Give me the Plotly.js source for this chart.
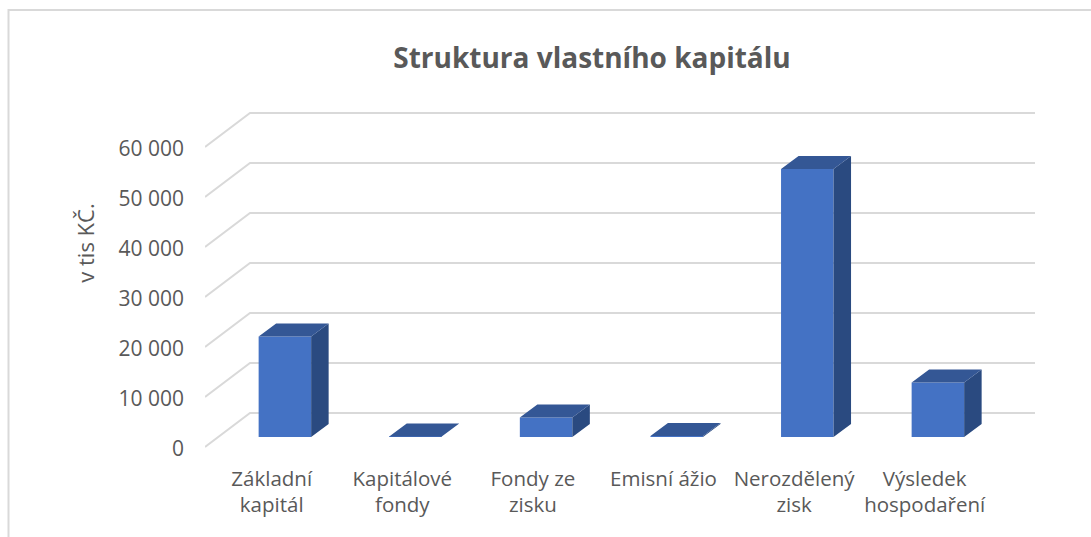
<!DOCTYPE html>
<html><head><meta charset="utf-8">
<script src="https://cdn.plot.ly/plotly-3.0.1.min.js"></script>
<style>html,body{margin:0;padding:0;background:#fff;overflow:hidden}#chart{width:1091px;height:537px}</style>
</head><body><div id="chart"></div>
<script>
const categories = ["Základní<br>kapitál","Kapitálové<br>fondy","Fondy ze<br>zisku","Emisní ážio","Nerozdělený<br>zisk","Výsledek<br>hospodaření"];
const values = [20100, 100, 3900, 200, 53600, 10900];
const yTicks = [0,10000,20000,30000,40000,50000,60000];
const yTickText = ["0","10 000","20 000","30 000","40 000","50 000","60 000"];

// Page geometry (px) and oblique projection of the fake 3D chart
const W=1091,H=537,L=205,R=1040,T=34,B=452;
const firstCat=271.7,catStep=130.6,y0px=437,pxPerUnit=50/10000;
const xRange=[(L-firstCat)/catStep,(R-firstCat)/catStep];
const yRange=[(y0px-B)/pxPerUnit,(y0px-T)/pxPerUnit];
const barOffset=-0.1,barWidth=0.402;
const depthX=17.5/catStep, depthY=13/pxPerUnit;       // bar depth
const wallX=45/catStep, floorDy=-10/pxPerUnit, wallDy=24/pxPerUnit; // side wall
const wallStart=xRange[0], wallEnd=(1035-firstCat)/catStep;

const sideX=[],sideY=[],topX=[],topY=[];
values.forEach((v,i)=>{
  const l=i+barOffset,r=l+barWidth;
  sideX.push(r,r+depthX,r+depthX,r,r,null);
  sideY.push(0,depthY,v+depthY,v,0,null);
  topX.push(l,r,r+depthX,l+depthX,l,null);
  topY.push(v,v,v+depthY,v+depthY,v,null);
});

const gridColor="#D9D9D9",textColor="#595959",font="'Open Sans', sans-serif";
const shapes=yTicks.map(t=>({type:"path",xref:"x2",yref:"y",layer:"below",
  path:`M ${wallStart} ${t+floorDy} L ${wallStart+wallX} ${t+wallDy} L ${wallEnd} ${t+wallDy}`,
  line:{color:gridColor,width:2}}));
const xp=p=>(p-L)/(R-L), yp=p=>(B-p)/(B-T);
shapes.push({type:"path",xref:"paper",yref:"paper",layer:"below",
  path:`M ${xp(8.5)} ${yp(540)} L ${xp(8.5)} ${yp(10)} L ${xp(1095)} ${yp(10)}`,
  line:{color:gridColor,width:2}});

const traces=[
 {type:"bar",x:categories,y:values,offset:barOffset,width:barWidth,marker:{color:"#4472C4",line:{width:0}},xaxis:"x",yaxis:"y",hoverinfo:"x+y",showlegend:false},
 {type:"scatter",mode:"lines",x:sideX,y:sideY,fill:"toself",fillcolor:"#2A4A80",line:{width:0,color:"#2A4A80"},xaxis:"x2",yaxis:"y",hoverinfo:"skip",showlegend:false},
 {type:"scatter",mode:"lines",x:topX,y:topY,fill:"toself",fillcolor:"#345795",line:{width:0,color:"#345795"},xaxis:"x2",yaxis:"y",hoverinfo:"skip",showlegend:false}
];
const layout={
 width:W,height:H,paper_bgcolor:"#fff",plot_bgcolor:"rgba(0,0,0,0)",showlegend:false,
 margin:{l:L,r:W-R,t:T,b:H-B,pad:0},
 font:{family:font,color:textColor,size:20},
 title:{text:"<b>Struktura vlastního kapitálu</b>",font:{family:font,size:28,color:textColor},x:592/W,xanchor:"center",y:1-58/H,yanchor:"middle"},
 xaxis:{type:"category",categoryorder:"array",categoryarray:categories,range:xRange,showgrid:false,zeroline:false,showline:false,ticks:"",
   tickangle:0,tickfont:{family:font,size:20.5,color:textColor},ticklabelstandoff:12,automargin:false},
 xaxis2:{type:"linear",overlaying:"x",range:xRange,visible:false,showgrid:false,zeroline:false},
 yaxis:{range:yRange,tickmode:"array",tickvals:yTicks,ticktext:yTickText,showgrid:false,zeroline:false,showline:false,ticks:"",
   tickfont:{family:font,size:21,color:textColor},ticklabelshift:12,ticklabelstandoff:20,automargin:false,
   title:{text:"v tis KČ.",font:{family:font,size:22,color:textColor},standoff:17}},
 shapes:shapes
};
Plotly.newPlot("chart",traces,layout,{displayModeBar:false,responsive:false});
</script></body></html>
